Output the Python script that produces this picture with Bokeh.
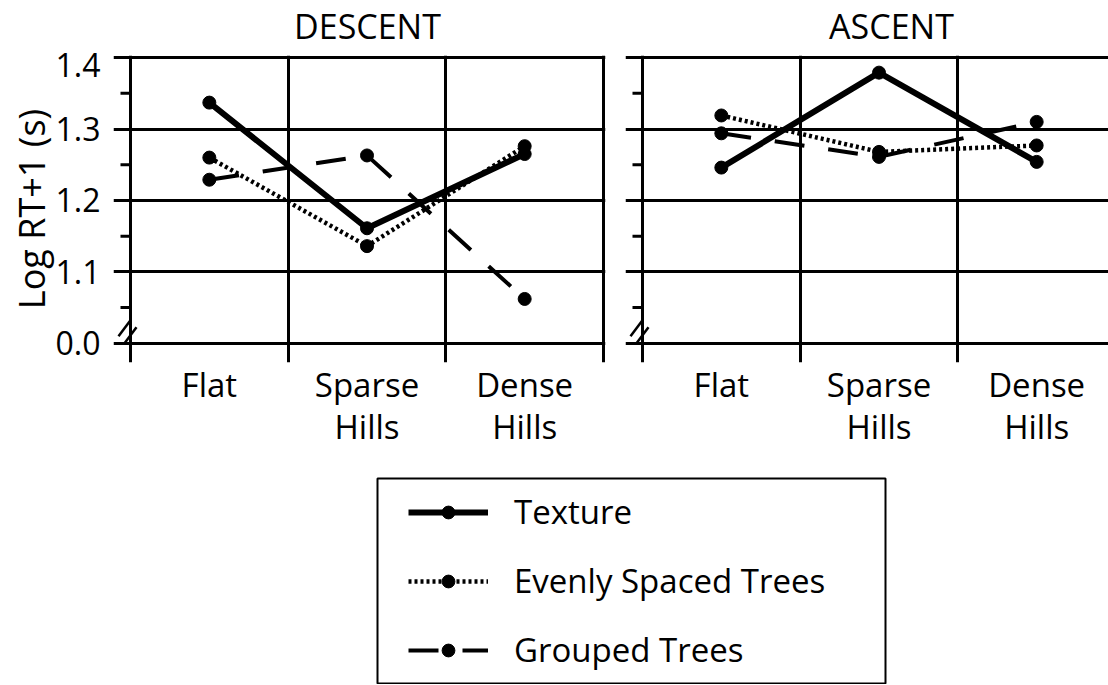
from bokeh.plotting import figure
from bokeh.layouts import column, row
from bokeh.models import (FixedTicker, Range1d, Legend, LegendItem,
                          BoxAnnotation, Label)
from bokeh.embed import file_html
from bokeh.resources import INLINE

# ---------------- data ----------------
categories = ["Flat", "Sparse\nHills", "Dense\nHills"]
cat_pos = [0.5, 1.5, 2.5]
y_ticks = [1.0, 1.1, 1.2, 1.3, 1.4]
y_tick_labels = ["0.0", "1.1", "1.2", "1.3", "1.4"]
y_minor = [1.05, 1.15, 1.25, 1.35]

panel_titles = ["DESCENT", "ASCENT"]
series_names = ["Texture", "Evenly Spaced Trees", "Grouped Trees"]

descent_texture = [1.337, 1.161, 1.265]
descent_evenly = [1.260, 1.136, 1.276]
descent_grouped = [1.229, 1.263, 1.062]

ascent_texture = [1.246, 1.379, 1.254]
ascent_evenly = [1.319, 1.268, 1.277]
ascent_grouped = [1.294, 1.261, 1.310]

FONT = "Open Sans"
FS = "33px"

styles = {
    "Texture": dict(line_width=6, line_dash="solid"),
    "Evenly Spaced Trees": dict(line_width=4.5, line_dash="3 3"),
    "Grouped Trees": dict(line_width=4, line_dash="30 24"),
}

XPX = 473 / 3      # pixels per category
YPX = 715          # pixels per y unit
TICK_OUT = 17 / XPX
MINOR_OUT = 10 / XPX
TITLE_H = 52


def make_panel(series, frame_w, x_end, b_left, b_right, show_labels,
               boundaries):
    p = figure(frame_width=frame_w, frame_height=307,
               x_range=Range1d(-TICK_OUT, x_end),
               y_range=Range1d(0.973, 1.403),
               output_backend="svg", toolbar_location=None,
               min_border_left=b_left, min_border_right=b_right,
               min_border_top=55 - TITLE_H, min_border_bottom=108,
               outline_line_color=None, background_fill_color="white")

    # grid lines (category boundaries / y ticks)
    p.xgrid.ticker = FixedTicker(ticks=boundaries)
    p.ygrid.ticker = FixedTicker(ticks=y_ticks)
    for g in (p.xgrid, p.ygrid):
        g.grid_line_color = "black"
        g.grid_line_width = 3
        g.grid_line_alpha = 1.0

    # x axis (category labels)
    xa = p.xaxis[0]
    xa.ticker = FixedTicker(ticks=cat_pos)
    xa.major_label_overrides = dict(zip(cat_pos, categories))
    xa.axis_line_color = None
    xa.major_tick_line_color = None
    xa.minor_tick_line_color = None
    xa.major_label_standoff = -7
    xa.major_label_text_font = FONT
    xa.major_label_text_font_size = FS
    xa.major_label_text_color = "black"
    xa.major_label_text_line_height = 0.95

    # y axis (labels only; lines drawn by grid)
    ya = p.yaxis[0]
    if show_labels:
        ya.ticker = FixedTicker(ticks=y_ticks)
        ya.major_label_overrides = dict(zip(y_ticks, y_tick_labels))
        ya.axis_label = "Log RT+1 (s)"
        ya.axis_label_text_font = FONT
        ya.axis_label_text_font_size = "36px"
        ya.axis_label_text_font_style = "normal"
        ya.axis_label_text_color = "black"
        ya.axis_label_standoff = -3
        ya.major_label_standoff = 7
        ya.major_label_text_font = FONT
        ya.major_label_text_font_size = "32px"
        ya.major_label_text_color = "black"
        ya.axis_line_color = None
        ya.major_tick_line_color = None
        ya.minor_tick_line_color = None
    else:
        ya.visible = False

    # minor ticks
    p.segment(x0=[-MINOR_OUT] * len(y_minor), y0=y_minor,
              x1=[0] * len(y_minor), y1=y_minor,
              line_color="black", line_width=3)

    # axis break mark (two short slashes)
    bx0 = [(118 - 130) / XPX, (124 - 130) / XPX]
    bx1 = [(130 - 130) / XPX, (136 - 130) / XPX]
    by0 = [1.0 + (343 - 336) / YPX, 1.0 + (343 - 343) / YPX]
    by1 = [1.0 + (343 - 320) / YPX, 1.0 + (343 - 327) / YPX]
    p.segment(x0=bx0, y0=by0, x1=bx1, y1=by1, line_color="black",
              line_width=2.5)

    # series
    for name, ys in zip(series_names, series):
        p.line(cat_pos, ys, line_color="black", line_join="round",
               **styles[name])
    for name, ys in zip(series_names, series):
        p.scatter(cat_pos, ys, marker="circle", size=13, fill_color="black",
                  line_color="black")
    return p


left = make_panel([descent_texture, descent_evenly, descent_grouped],
                  492, 3 + 2 / XPX, 113, 10, True, [0, 1, 2, 3])
right = make_panel([ascent_texture, ascent_evenly, ascent_grouped],
                   483, -TICK_OUT + 483 / XPX, 10, 0, False, [0, 1, 2])

# ---------------- panel titles ----------------
tp = figure(width=1108, height=TITLE_H, x_range=Range1d(0, 1108),
            y_range=Range1d(0, TITLE_H), x_axis_type=None, y_axis_type=None,
            toolbar_location=None, output_backend="svg", min_border=0,
            outline_line_color=None)
tp.xgrid.visible = False
tp.ygrid.visible = False
for t, cx in zip(panel_titles, [367, 891]):
    tp.add_layout(Label(x=cx, y=TITLE_H - 25, text=t, text_align="center",
                        text_baseline="middle", text_font=FONT,
                        text_font_size="34px", text_color="black"))

# ---------------- legend ----------------
LH = 214
lp = figure(width=1108, height=LH, x_range=Range1d(0, 1108),
            y_range=Range1d(0, LH), x_axis_type=None, y_axis_type=None,
            toolbar_location=None, output_backend="svg", min_border=0,
            outline_line_color=None)
lp.xgrid.visible = False
lp.ygrid.visible = False
items = []
for name in series_names:
    lr = lp.line([-100, -90], [-100, -100], line_color="black",
                 **styles[name])
    sr = lp.scatter([-100], [-100], marker="circle", size=13,
                    fill_color="black", line_color="black")
    items.append(LegendItem(label=name, renderers=[lr, sr]))
legend = Legend(items=items, location=(408, 12), glyph_width=80,
                glyph_height=32, label_height=32, label_standoff=26,
                spacing=24, padding=0, margin=0,
                border_line_color=None, background_fill_alpha=0,
                label_text_font=FONT, label_text_font_size=FS,
                label_text_color="black", label_text_line_height=1.0)
lp.add_layout(legend)
lp.add_layout(BoxAnnotation(left=377, right=885, bottom=1, top=LH - 8,
                            fill_alpha=0, line_color="black", line_alpha=1.0,
                            line_width=2))

layout = column(tp, row(left, right, spacing=0), lp, spacing=0)

open("out.html", "w").write(file_html(layout, INLINE))
